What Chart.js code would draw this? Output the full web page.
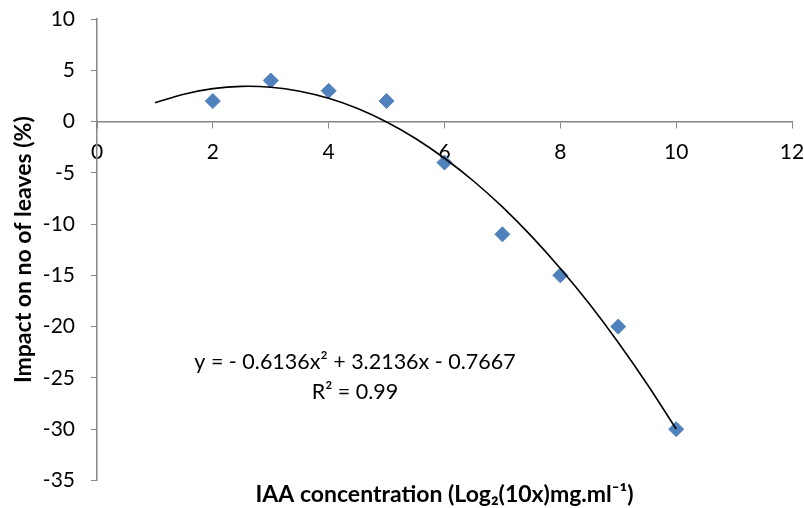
<!DOCTYPE html>
<html>
<head>
<meta charset="utf-8">
<script src="https://cdn.jsdelivr.net/npm/chart.js@4"></script>
<style>
  html, body { margin: 0; padding: 0; background: #fff; }
  #wrap { width: 804px; height: 508px; }
</style>
</head>
<body>
<div id="wrap"><canvas id="leafChart" width="804" height="508"></canvas></div>
<script>
// measured points (IAA concentration vs impact on leaves)
const concentration = [2, 3, 4, 5, 6, 7, 8, 9, 10];
const impact = [2, 4, 3, 2, -4, -11, -15, -20, -30];

// trendline
const trendX = [1, 1.5, 2, 2.5, 3, 3.5, 4, 4.5, 5, 5.5, 6, 6.5, 7, 7.5, 8, 8.5, 9, 9.5, 10];
const trendY = [1.83, 2.67, 3.21, 3.43, 3.35, 2.96, 2.27, 1.27, -0.04, -1.65, -3.58, -5.8, -8.33, -11.18, -14.33, -17.78, -21.55, -25.62, -29.99];

const equationLines = ['y = - 0.6136x\u00B2 + 3.2136x - 0.7667', 'R\u00B2 = 0.99'];

const FONT = 'Lato, "Open Sans", sans-serif';
const AXIS_GREY = '#868686';

const ctx = document.getElementById('leafChart').getContext('2d');

const equationLabel = {
    id: 'equationLabel',
    afterDatasetsDraw(chart) {
        const c = chart.ctx;
        c.save();
        c.font = '21.5px ' + FONT;
        c.fillStyle = '#000';
        c.textAlign = 'center';
        c.textBaseline = 'middle';
        c.fillText(equationLines[0], 355, 362);
        c.fillText(equationLines[1], 355, 392);
        c.restore();
    }
};

const chart = new Chart(ctx, {
    type: 'scatter',
    data: {
        datasets: [{
            label: 'Impact',
            data: concentration.map((x, i) => ({ x: x, y: impact[i] })),
            pointStyle: 'rectRot',
            pointRadius: 7.5,
            pointHoverRadius: 7.5,
            backgroundColor: '#4F81BD',
            borderColor: '#4F81BD',
            borderWidth: 1,
            order: 2
        }, {
            label: 'Poly. trend',
            data: trendX.map((x, i) => ({ x: x, y: trendY[i] })),
            showLine: true,
            pointRadius: 0,
            borderColor: '#000',
            borderWidth: 1.6,
            tension: 0.4,
            fill: false,
            order: 1
        }]
    },
    options: {
        responsive: false,
        animation: false,
        layout: { padding: { top: 19, right: 12, bottom: 0, left: 0 } },
        plugins: {
            legend: { display: false },
            tooltip: { enabled: false },
            title: {
                display: true,
                position: 'bottom',
                fullSize: false,
                text: 'IAA concentration (Log\u2082(10x)mg.ml\u207B\u00B9)',
                color: '#000',
                font: { family: FONT, size: 23, weight: 'bold' },
                padding: { top: 0, bottom: 0 }
            }
        },
        scales: {
            x: {
                type: 'linear',
                min: 0,
                max: 12,
                position: { y: 0 },
                afterFit(scale) {
                    scale.height = 0;
                    scale.paddingLeft = 0;
                    scale.paddingRight = 0;
                },
                ticks: { stepSize: 2, color: '#000', padding: 12, font: { family: FONT, size: 21 } },
                grid: { drawOnChartArea: false, drawTicks: true, tickLength: 6, color: AXIS_GREY },
                border: { color: AXIS_GREY, width: 1.5 }
            },
            y: {
                type: 'linear',
                min: -35,
                max: 10,
                afterFit(scale) {
                    scale.width = 97;
                    scale.paddingTop = 0;
                    scale.paddingBottom = 0;
                },
                ticks: { stepSize: 5, color: '#000', padding: 16, font: { family: FONT, size: 21 } },
                grid: { drawOnChartArea: false, drawTicks: true, tickLength: 6, color: AXIS_GREY },
                border: { color: AXIS_GREY, width: 1.5 },
                title: {
                    display: true,
                    text: 'Impact on no of leaves (%)',
                    color: '#000',
                    font: { family: FONT, size: 23, weight: 'bold' },
                    padding: { top: 10, bottom: 0 }
                }
            }
        }
    },
    plugins: [equationLabel]
});
</script>
</body>
</html>
